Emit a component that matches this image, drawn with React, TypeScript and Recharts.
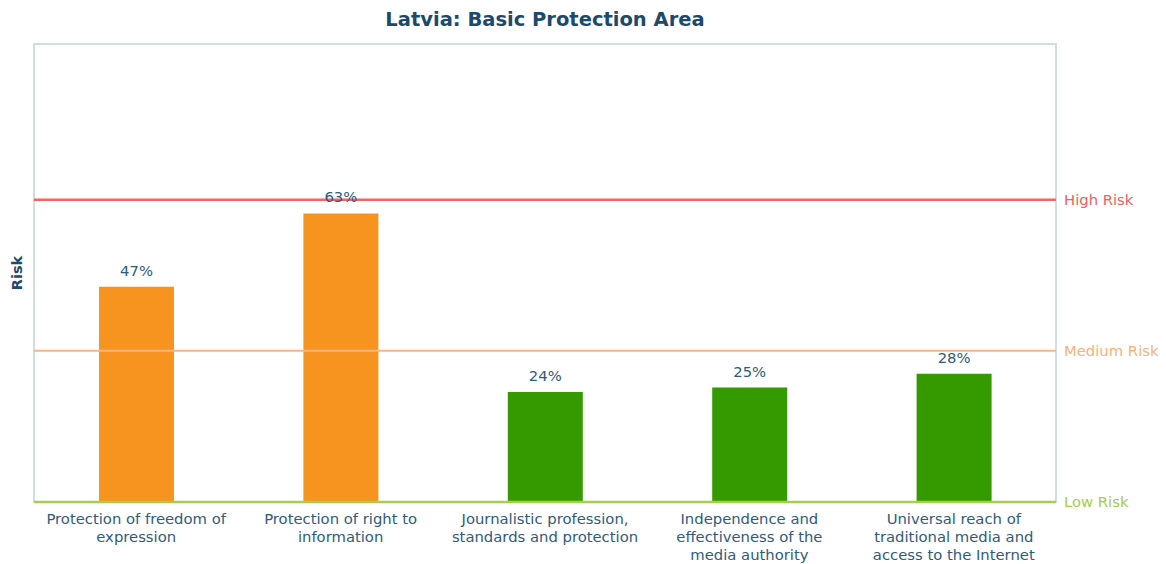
import React from 'react';
import { BarChart, Bar, XAxis, YAxis, CartesianGrid, ReferenceLine, ReferenceArea, LabelList, Cell } from 'recharts';

const categories = [
  'Protection of freedom of\nexpression',
  'Protection of right to\ninformation',
  'Journalistic profession,\nstandards and protection',
  'Independence and\neffectiveness of the\nmedia authority',
  'Universal reach of\ntraditional media and\naccess to the Internet',
];
const riskValues = [47, 63, 24, 25, 28];
const yTicks = [0, 20, 40, 60, 80, 100];
const thresholds = { high: 66, medium: 33, low: 0 };

const data = categories.map((c, i) => ({ name: c, value: riskValues[i] }));

const FONT = '"DejaVu Sans", Verdana, sans-serif';
const TEXT = '#2f5b7c';

const Tick = (props: any) => {
  const { x, y, payload } = props;
  const lines = String(payload.value).split('\n');
  return (
    <text x={x} y={y} textAnchor="middle" fontFamily={FONT} fontSize={14.8} fill={TEXT}>
      {lines.map((l, i) => (
        <tspan key={i} x={x} dy={i === 0 ? 14 : 18}>{l}</tspan>
      ))}
    </text>
  );
};

export default function App() {
  return (
    <div style={{ position: 'relative', width: 1150, height: 556 }}>
      <div style={{ position: 'absolute', left: 26, width: 1022, top: 0, textAlign: 'center', fontFamily: FONT, fontWeight: 'bold', fontSize: 19.5, color: '#1d4a6b' }}>
        Latvia: Basic Protection Area
      </div>
      <BarChart width={1150} height={556} data={data} margin={{ top: 36, right: 102, bottom: 0, left: 0 }}>
        <CartesianGrid vertical={false} stroke="#e7edf0" strokeWidth={1} />
        <ReferenceArea y1={0} y2={100} fill="none" stroke="#cfdde5" strokeWidth={2} ifOverflow="visible" />
        <XAxis dataKey="name" height={62} tickLine={false} axisLine={false} tick={<Tick />} interval={0} />
        <YAxis domain={[0, 100]} ticks={yTicks} width={26} tick={false} tickLine={false} axisLine={false}
          label={{ value: 'Risk', angle: -90, position: 'insideLeft', offset: 9, style: { fontFamily: FONT, fontWeight: 'bold', fontSize: 14.5, fill: '#1d4a6b', textAnchor: 'middle' } }} />
        <Bar dataKey="value" barSize={75} isAnimationActive={false}>
          {data.map((d, i) => (
            <Cell key={i} fill={d.value > thresholds.medium ? '#f7931f' : '#349a00'} />
          ))}
          <LabelList dataKey="value" position="top" offset={11} formatter={(v: any) => `${v}%`} style={{ fontFamily: FONT, fontSize: 14.8, fill: TEXT }} />
        </Bar>
        <ReferenceLine y={thresholds.high} stroke="#f26565" strokeWidth={2.5} ifOverflow="visible"
          label={{ value: 'High Risk', position: 'right', offset: 8, style: { fontFamily: FONT, fontSize: 14.8, fill: '#f25d5d' } }} />
        <ReferenceLine y={thresholds.medium} stroke="#f9b584" strokeWidth={2} ifOverflow="visible"
          label={{ value: 'Medium Risk', position: 'right', offset: 8, style: { fontFamily: FONT, fontSize: 14.8, fill: '#f9b07c' } }} />
        <ReferenceLine y={thresholds.low} stroke="#a9cf46" strokeWidth={2.5} ifOverflow="visible"
          label={{ value: 'Low Risk', position: 'right', offset: 8, style: { fontFamily: FONT, fontSize: 14.8, fill: '#a6cc42' } }} />
      </BarChart>
    </div>
  );
}
